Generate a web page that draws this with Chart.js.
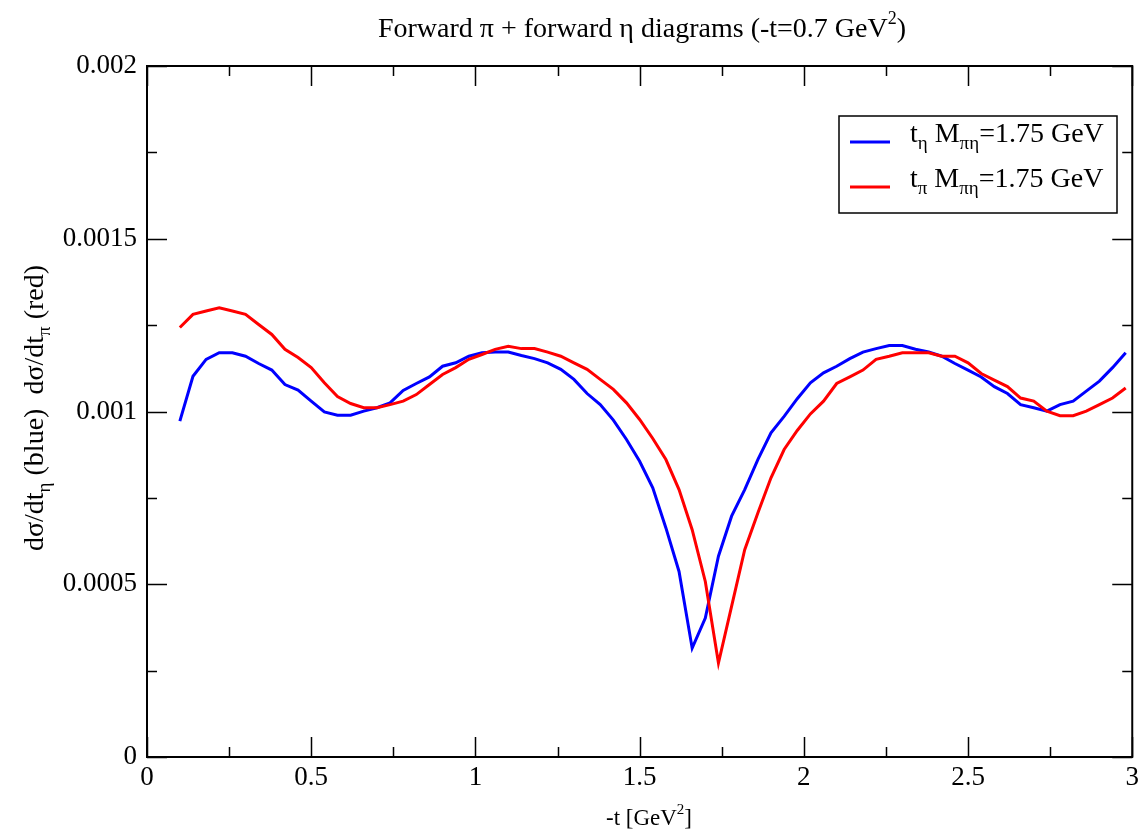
<!DOCTYPE html>
<html>
<head>
<meta charset="utf-8">
<title>Forward pi + forward eta</title>
<script src="https://cdn.jsdelivr.net/npm/chart.js@4"></script>
<style>
    body { margin: 0; background: #fff; }
    #contenedor { width: 1144px; height: 834px; }
</style>
</head>
<body>
<div id="contenedor">
    <canvas id="grafica" width="1144" height="834"></canvas>
</div>
<script>
// Valores de -t [GeV^2]
const valoresT = [0.10, 0.14, 0.18, 0.22, 0.26, 0.30, 0.34, 0.38, 0.42, 0.46,
    0.50, 0.54, 0.58, 0.62, 0.66, 0.70, 0.74, 0.78, 0.82, 0.86,
    0.90, 0.94, 0.98, 1.02, 1.06, 1.10, 1.14, 1.18, 1.22, 1.26,
    1.30, 1.34, 1.38, 1.42, 1.46, 1.50, 1.54, 1.58, 1.62, 1.66,
    1.70, 1.74, 1.78, 1.82, 1.86, 1.90, 1.94, 1.98, 2.02, 2.06,
    2.10, 2.14, 2.18, 2.22, 2.26, 2.30, 2.34, 2.38, 2.42, 2.46,
    2.50, 2.54, 2.58, 2.62, 2.66, 2.70, 2.74, 2.78, 2.82, 2.86,
    2.90, 2.94, 2.98];

// dsigma/dt_eta (azul)
const curvaAzul = [0.000972, 0.001102, 0.001151, 0.001170, 0.001170, 0.001160, 0.001139, 0.001120, 0.001078, 0.001062,
    0.001030, 0.000999, 0.000989, 0.000989, 0.001001, 0.001011, 0.001025, 0.001061, 0.001081, 0.001100,
    0.001131, 0.001141, 0.001160, 0.001170, 0.001172, 0.001172, 0.001162, 0.001153, 0.001141, 0.001122,
    0.001093, 0.001052, 0.001020, 0.000975, 0.000919, 0.000856, 0.000779, 0.000663, 0.000537, 0.000315,
    0.000402, 0.000581, 0.000697, 0.000774, 0.000861, 0.000938, 0.000986, 0.001037, 0.001083, 0.001112,
    0.001131, 0.001153, 0.001172, 0.001182, 0.001191, 0.001191, 0.001180, 0.001172, 0.001160, 0.001139,
    0.001120, 0.001100, 0.001072, 0.001052, 0.001020, 0.001011, 0.001001, 0.001020, 0.001030, 0.001059,
    0.001088, 0.001127, 0.001170];

// dsigma/dt_pi (rojo)
const curvaRoja = [0.001243, 0.001281, 0.001291, 0.001300, 0.001291, 0.001281, 0.001252, 0.001223, 0.001180, 0.001156,
    0.001127, 0.001083, 0.001043, 0.001023, 0.001011, 0.001011, 0.001020, 0.001030, 0.001049, 0.001078,
    0.001107, 0.001127, 0.001151, 0.001165, 0.001180, 0.001189, 0.001182, 0.001182, 0.001172, 0.001160,
    0.001141, 0.001122, 0.001093, 0.001064, 0.001025, 0.000977, 0.000922, 0.000861, 0.000774, 0.000658,
    0.000508, 0.000272, 0.000436, 0.000600, 0.000706, 0.000808, 0.000890, 0.000945, 0.000993, 0.001030,
    0.001081, 0.001100, 0.001120, 0.001151, 0.001160, 0.001170, 0.001170, 0.001170, 0.001160, 0.001160,
    0.001141, 0.001110, 0.001091, 0.001072, 0.001039, 0.001030, 0.001001, 0.000988, 0.000988, 0.001001,
    0.001020, 0.001039, 0.001068];

// Marcas de los ejes
const marcasX = [0, 0.25, 0.5, 0.75, 1, 1.25, 1.5, 1.75, 2, 2.25, 2.5, 2.75, 3];
const marcasY = [0, 0.00025, 0.0005, 0.00075, 0.001, 0.00125, 0.0015, 0.00175, 0.002];

const fuente = '"Liberation Serif", "Times New Roman", serif';

function armarPuntos(valores) {
    return valoresT.map((t, i) => ({ x: t, y: valores[i] }));
}

function formatoNumero(valor) {
    return String(Number(valor.toFixed(5)));
}

// Dibuja texto con subindices / superindices: partes = [texto, tamaño, desplazamiento]
function dibujarTexto(ctx, partes, x, y, alinear) {
    let ancho = 0;
    partes.forEach(p => {
        ctx.font = p[1] + 'px ' + fuente;
        ancho += ctx.measureText(p[0]).width;
    });
    let cx = alinear === 'center' ? x - ancho / 2 : x;
    partes.forEach(p => {
        ctx.font = p[1] + 'px ' + fuente;
        ctx.fillText(p[0], cx, y + p[2]);
        cx += ctx.measureText(p[0]).width;
    });
}

const marcoYTextos = {
    id: 'marcoYTextos',
    afterDraw(chart) {
        const ctx = chart.ctx;
        const area = chart.chartArea;
        const ejeX = chart.scales.x;
        const ejeY = chart.scales.y;

        ctx.save();
        ctx.strokeStyle = '#000';
        ctx.fillStyle = '#000';
        ctx.textAlign = 'left';
        ctx.textBaseline = 'alphabetic';

        // Marco
        ctx.lineWidth = 2;
        ctx.strokeRect(area.left, area.top, area.right - area.left, area.bottom - area.top);

        // Marcas hacia adentro en los cuatro lados
        ctx.lineWidth = 1.5;
        ctx.beginPath();
        marcasX.forEach((v, i) => {
            const px = Math.round(ejeX.getPixelForValue(v)) + 0.5;
            const largo = i % 2 === 0 ? 20 : 10;
            ctx.moveTo(px, area.bottom);
            ctx.lineTo(px, area.bottom - largo);
            ctx.moveTo(px, area.top);
            ctx.lineTo(px, area.top + largo);
        });
        marcasY.forEach((v, i) => {
            const py = Math.round(ejeY.getPixelForValue(v)) + 0.5;
            const largo = i % 2 === 0 ? 20 : 10;
            ctx.moveTo(area.left, py);
            ctx.lineTo(area.left + largo, py);
            ctx.moveTo(area.right, py);
            ctx.lineTo(area.right - largo, py);
        });
        ctx.stroke();

        // Titulo
        dibujarTexto(ctx, [
            ['Forward \u03c0 + forward \u03b7 diagrams (-t=0.7 GeV', 28, 0],
            ['2', 18, -13],
            [')', 28, 0]
        ], 642, 37, 'center');

        // Titulo eje X
        dibujarTexto(ctx, [
            ['-t [GeV', 23, 0],
            ['2', 15, -11],
            [']', 23, 0]
        ], 649, 825, 'center');

        // Titulo eje Y (rotado)
        ctx.save();
        ctx.translate(43, 408);
        ctx.rotate(-Math.PI / 2);
        dibujarTexto(ctx, [
            ['d\u03c3/dt', 28, 0],
            ['\u03b7', 19, 7],
            [' (blue)  d\u03c3/dt', 28, 0],
            ['\u03c0', 19, 7],
            [' (red)', 28, 0]
        ], 0, 0, 'center');
        ctx.restore();

        // Leyenda
        ctx.fillStyle = '#fff';
        ctx.fillRect(839, 116, 278, 97);
        ctx.lineWidth = 1.5;
        ctx.strokeRect(839, 116, 278, 97);
        const filas = [
            { color: '#0000ff', sub: '\u03b7', y: 142 },
            { color: '#ff0000', sub: '\u03c0', y: 187 }
        ];
        filas.forEach(f => {
            ctx.strokeStyle = f.color;
            ctx.lineWidth = 3;
            ctx.beginPath();
            ctx.moveTo(850, f.y);
            ctx.lineTo(890, f.y);
            ctx.stroke();
            ctx.fillStyle = '#000';
            dibujarTexto(ctx, [
                ['t', 28, 0],
                [f.sub, 19, 7],
                [' M', 28, 0],
                ['\u03c0\u03b7', 19, 7],
                ['=1.75 GeV', 28, 0]
            ], 910, f.y, 'left');
        });

        ctx.restore();
    }
};

const ctx = document.getElementById('grafica').getContext('2d');

window.miGrafica = new Chart(ctx, {
    type: 'line',
    data: {
        datasets: [{
            label: 't_eta M_pieta=1.75 GeV',
            data: armarPuntos(curvaAzul),
            borderColor: '#0000ff',
            borderWidth: 3,
            pointRadius: 0,
            tension: 0,
            fill: false,
            order: 1
        }, {
            label: 't_pi M_pieta=1.75 GeV',
            data: armarPuntos(curvaRoja),
            borderColor: '#ff0000',
            borderWidth: 3,
            pointRadius: 0,
            tension: 0,
            fill: false,
            order: 0
        }]
    },
    options: {
        responsive: false,
        animation: false,
        layout: {
            padding: { top: 66, right: 10, left: 0, bottom: 0 }
        },
        plugins: {
            legend: { display: false },
            title: { display: false },
            tooltip: { enabled: false }
        },
        scales: {
            x: {
                type: 'linear',
                min: 0,
                max: 3,
                grid: { display: false, drawTicks: false },
                border: { display: false },
                ticks: {
                    stepSize: 0.5,
                    autoSkip: false,
                    maxRotation: 0,
                    padding: 5,
                    color: '#000',
                    font: { family: fuente, size: 27 },
                    callback: v => formatoNumero(v)
                },
                afterFit: escala => { escala.height = 77; }
            },
            y: {
                type: 'linear',
                min: 0,
                max: 0.002,
                grid: { display: false, drawTicks: false },
                border: { display: false },
                ticks: {
                    stepSize: 0.0005,
                    autoSkip: false,
                    padding: 10,
                    color: '#000',
                    font: { family: fuente, size: 27 },
                    callback: v => formatoNumero(v)
                },
                afterFit: escala => { escala.width = 147; }
            }
        }
    },
    plugins: [marcoYTextos]
});
</script>
</body>
</html>
